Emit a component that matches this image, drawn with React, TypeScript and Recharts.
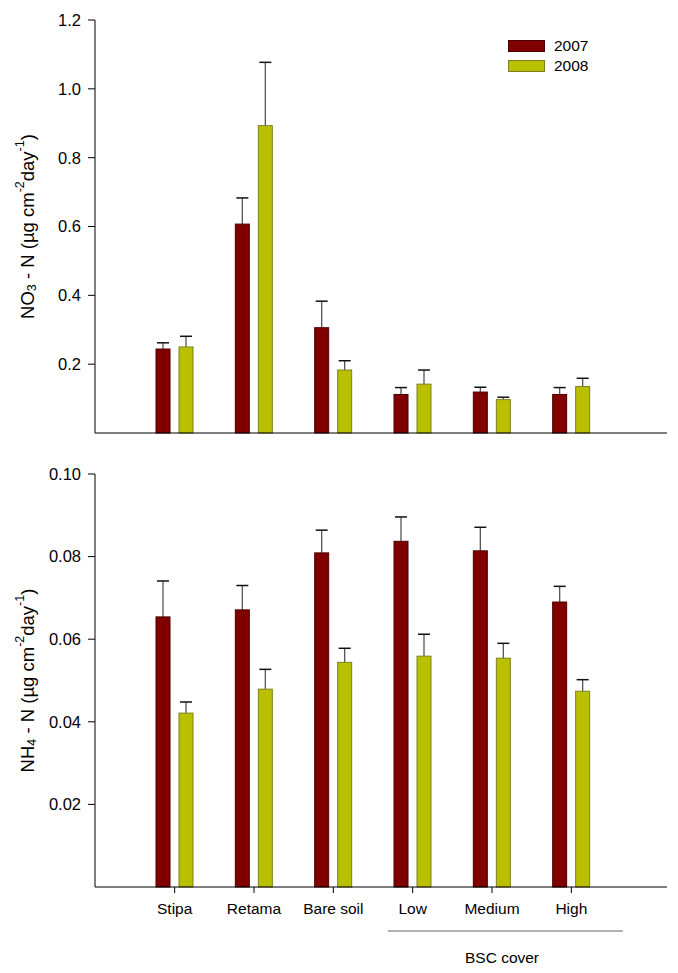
import React from 'react';
import { Bar, BarChart, XAxis, YAxis } from 'recharts';

const categories = ['Stipa', 'Retama', 'Bare soil', 'Low', 'Medium', 'High'];
const seriesNames = ['2007', '2008'];

// NO3-N
const no3_2007 = [0.244, 0.607, 0.306, 0.112, 0.119, 0.112];
const no3_2007_se = [0.018, 0.076, 0.077, 0.02, 0.014, 0.02];
const no3_2008 = [0.25, 0.893, 0.183, 0.142, 0.097, 0.135];
const no3_2008_se = [0.031, 0.184, 0.027, 0.041, 0.007, 0.024];
const no3Ticks = [0.2, 0.4, 0.6, 0.8, 1.0, 1.2];

// NH4-N
const nh4_2007 = [0.0654, 0.0671, 0.0809, 0.0837, 0.0814, 0.069];
const nh4_2007_se = [0.0087, 0.0059, 0.0055, 0.0059, 0.0057, 0.0038];
const nh4_2008 = [0.0421, 0.0479, 0.0544, 0.0559, 0.0554, 0.0474];
const nh4_2008_se = [0.0027, 0.0048, 0.0034, 0.0053, 0.0036, 0.0028];
const nh4Ticks = [0.02, 0.04, 0.06, 0.08, 0.1];

const RED = '#800000';
const RED_EDGE = '#4d0000';
const YEL = '#b9c000';
const YEL_EDGE = '#7f8020';
const FONT = "'Liberation Sans', Arial, sans-serif";

const no3Data = categories.map((c, i) => ({
  name: c,
  a: no3_2007[i],
  aErr: no3_2007_se[i],
  b: no3_2008[i],
  bErr: no3_2008_se[i],
}));

const nh4Data = categories.map((c, i) => ({
  name: c,
  a: nh4_2007[i],
  aErr: nh4_2007_se[i],
  b: nh4_2008[i],
  bErr: nh4_2008_se[i],
}));

// bar with an upper-only error whisker, scaled from the bar's own height
const barWithErr = (errKey: string, edge: string) => (props: any) => {
  const { x, y, width, height, fill, payload, value } = props;
  const v = Array.isArray(value) ? value[1] - value[0] : value;
  const e = payload[errKey];
  const ePx = v ? (e * height) / v : 0;
  const cx = x + width / 2;
  return (
    <g>
      <line x1={cx} y1={y} x2={cx} y2={y - ePx} stroke="#555" strokeWidth={1.3} />
      <line x1={cx - 6} y1={y - ePx} x2={cx + 6} y2={y - ePx} stroke="#111" strokeWidth={1.5} />
      <rect x={x} y={y} width={width} height={height} fill={fill} stroke={edge} strokeWidth={1} />
    </g>
  );
};

const yLabel = (ion: string, sub: string) => (props: any) => {
  const vb = props.viewBox;
  const cx = vb.x + 12;
  const cy = vb.y + vb.height / 2;
  return (
    <text
      x={cx}
      y={cy}
      transform={`rotate(-90, ${cx}, ${cy})`}
      textAnchor="middle"
      dominantBaseline="central"
      fontFamily={FONT}
      fontSize={18.5}
      fill="#000"
    >
      {ion}
      <tspan fontSize={12.5} dy={5}>{sub}</tspan>
      <tspan dy={-5}> - N (µg cm</tspan>
      <tspan fontSize={12.5} dy={-7}>-2</tspan>
      <tspan dy={7}>day</tspan>
      <tspan fontSize={12.5} dy={-7}>-1</tspan>
      <tspan dy={7}>)</tspan>
    </text>
  );
};

const yTick = { fill: '#000', fontSize: 16.5, fontFamily: FONT };
const xTick = { fill: '#000', fontSize: 15.5, fontFamily: FONT };

const App: React.FC = () => {
  return (
    <div style={{ position: 'absolute', left: 0, top: 0, width: 678, height: 973, background: '#fff' }}>
      <div style={{ position: 'absolute', left: 0, top: 0 }}>
        <BarChart
          width={678}
          height={460}
          data={no3Data}
          margin={{ top: 20, right: 11, left: 15, bottom: 7 }}
          barSize={14}
          barGap={9}
        >
          <XAxis
            dataKey="name"
            height={20}
            tick={false}
            tickSize={6}
            stroke="#000"
            padding={{ left: 40, right: 56 }}
          />
          <YAxis
            width={80}
            domain={[0, 1.2]}
            ticks={no3Ticks}
            tickFormatter={(v: number) => v.toFixed(1)}
            tick={yTick}
            tickSize={7}
            tickMargin={7}
            stroke="#000"
            label={{ content: yLabel('NO', '3') }}
          />
          <Bar dataKey="a" name="2007" fill={RED} isAnimationActive={false} shape={barWithErr('aErr', RED_EDGE)} />
          <Bar dataKey="b" name="2008" fill={YEL} isAnimationActive={false} shape={barWithErr('bErr', YEL_EDGE)} />
        </BarChart>
      </div>
      {/* legend */}
      <div style={{ position: 'absolute', left: 508, top: 36, fontFamily: FONT, fontSize: 15.5, color: '#000' }}>
        {seriesNames.map((s, i) => (
          <div key={s} style={{ display: 'flex', alignItems: 'center', height: 20 }}>
            <div
              style={{
                width: 37,
                height: 12,
                background: i === 0 ? RED : YEL,
                border: `1px solid ${i === 0 ? RED_EDGE : YEL_EDGE}`,
                boxSizing: 'border-box',
                marginRight: 9,
              }}
            />
            <span>{s}</span>
          </div>
        ))}
      </div>
      <div style={{ position: 'absolute', left: 0, top: 460 }}>
        <BarChart
          width={678}
          height={513}
          data={nh4Data}
          margin={{ top: 14, right: 11, left: 15, bottom: 46 }}
          barSize={14}
          barGap={9}
        >
          <XAxis
            dataKey="name"
            height={40}
            tick={xTick}
            tickSize={6}
            tickMargin={10}
            stroke="#000"
            interval={0}
            padding={{ left: 40, right: 56 }}
          />
          <YAxis
            width={80}
            domain={[0, 0.1]}
            ticks={nh4Ticks}
            tickFormatter={(v: number) => v.toFixed(2)}
            tick={yTick}
            tickSize={7}
            tickMargin={7}
            stroke="#000"
            label={{ content: yLabel('NH', '4') }}
          />
          <Bar dataKey="a" name="2007" fill={RED} isAnimationActive={false} shape={barWithErr('aErr', RED_EDGE)} />
          <Bar dataKey="b" name="2008" fill={YEL} isAnimationActive={false} shape={barWithErr('bErr', YEL_EDGE)} />
        </BarChart>
      </div>
      <svg style={{ position: 'absolute', left: 0, top: 920 }} width={678} height={53}>
        <line x1={388} y1={11} x2={623} y2={11} stroke="#666" strokeWidth={1} />
        <text x={502} y={37} textAnchor="middle" dominantBaseline="central" fontFamily={FONT} fontSize={15.5} fill="#000">
          BSC cover
        </text>
      </svg>
    </div>
  );
};

export default App;
